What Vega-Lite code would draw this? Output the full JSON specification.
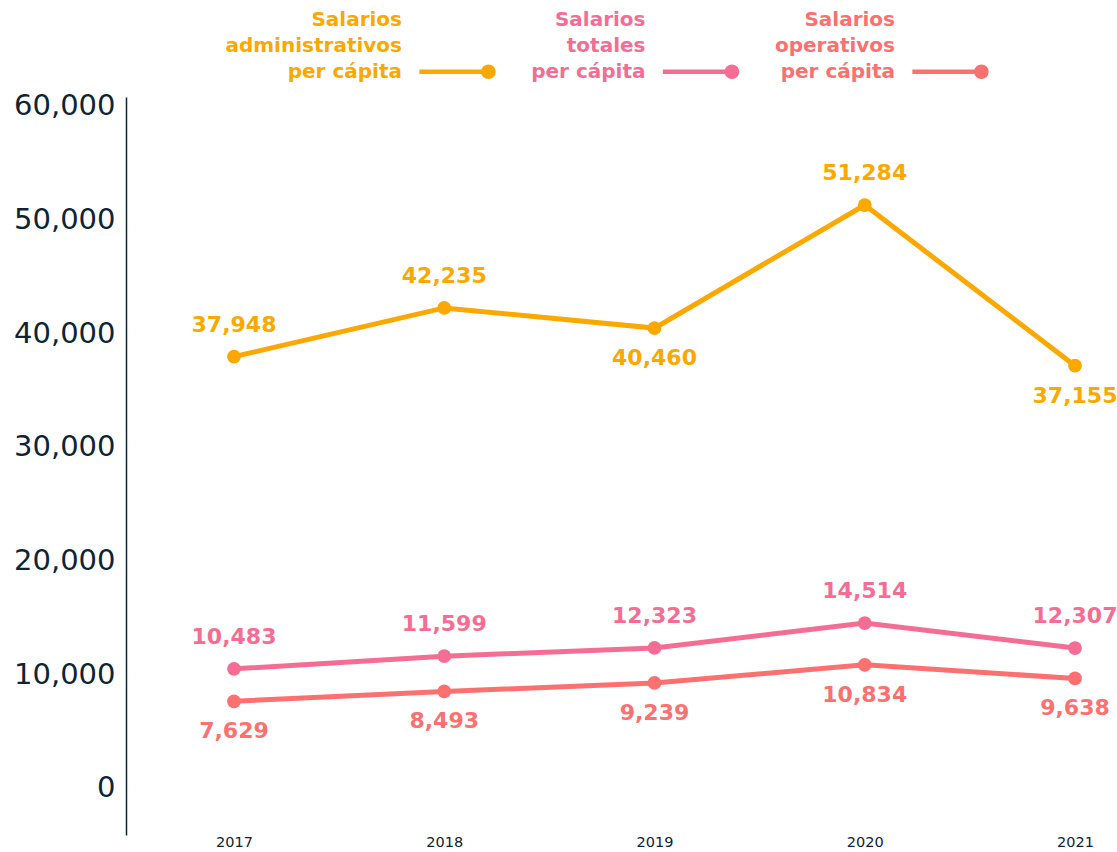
{
  "$schema": "https://vega.github.io/schema/vega-lite/v6.json",
  "width": 991,
  "height": 738,
  "autosize": {"type": "none"},
  "padding": {"left": 126, "top": 97, "right": 0, "bottom": 17},
  "background": "white",
  "config": {"view": {"stroke": null}, "font": "DejaVu Sans"},
  "data": {
    "values": [
      {"anio": 2017, "serie": "Salarios administrativos per cápita", "valor": 37948},
      {"anio": 2018, "serie": "Salarios administrativos per cápita", "valor": 42235},
      {"anio": 2019, "serie": "Salarios administrativos per cápita", "valor": 40460},
      {"anio": 2020, "serie": "Salarios administrativos per cápita", "valor": 51284},
      {"anio": 2021, "serie": "Salarios administrativos per cápita", "valor": 37155},
      {"anio": 2017, "serie": "Salarios totales per cápita", "valor": 10483},
      {"anio": 2018, "serie": "Salarios totales per cápita", "valor": 11599},
      {"anio": 2019, "serie": "Salarios totales per cápita", "valor": 12323},
      {"anio": 2020, "serie": "Salarios totales per cápita", "valor": 14514},
      {"anio": 2021, "serie": "Salarios totales per cápita", "valor": 12307},
      {"anio": 2017, "serie": "Salarios operativos per cápita", "valor": 7629},
      {"anio": 2018, "serie": "Salarios operativos per cápita", "valor": 8493},
      {"anio": 2019, "serie": "Salarios operativos per cápita", "valor": 9239},
      {"anio": 2020, "serie": "Salarios operativos per cápita", "valor": 10834},
      {"anio": 2021, "serie": "Salarios operativos per cápita", "valor": 9638}
    ]
  },
  "encoding": {
    "x": {
      "field": "anio",
      "type": "ordinal",
      "scale": {"type": "point", "padding": 0.3567, "align": 0.72},
      "axis": {
        "title": null,
        "domain": false,
        "ticks": false,
        "labelAngle": 0,
        "labelFont": "DejaVu Sans",
        "labelFontSize": 14.5,
        "labelColor": "#0E2434",
        "labelPadding": 0
      }
    },
    "y": {
      "field": "valor",
      "type": "quantitative",
      "scale": {"domain": [-4135, 60790], "nice": false, "zero": false},
      "axis": {
        "title": null,
        "values": [0, 10000, 20000, 30000, 40000, 50000, 60000],
        "format": ",.0f",
        "grid": false,
        "ticks": false,
        "domainColor": "#0E2434",
        "domainWidth": 1.5,
        "labelFont": "DejaVu Sans",
        "labelFontSize": 29,
        "labelColor": "#0E2434",
        "labelPadding": 11,
        "labelFlush": false,
        "labelOverlap": false
      }
    },
    "color": {
      "field": "serie",
      "type": "nominal",
      "scale": {
        "domain": ["Salarios administrativos per cápita", "Salarios totales per cápita", "Salarios operativos per cápita"],
        "range": ["#FCA800", "#F56D94", "#FC7070"]
      },
      "legend": {
        "orient": "none",
        "legendX": 291,
        "legendY": -66,
        "direction": "horizontal",
        "title": null,
        "padding": 0,
        "symbolType": "M-1,0L0.81,0M0.942,0A0.132,0.132,0,1,1,0.678,0A0.132,0.132,0,1,1,0.942,0Z",
        "symbolSize": 5822,
        "symbolStrokeWidth": 4.5,
        "labelFont": "DejaVu Sans",
        "labelFontWeight": "bold",
        "labelFontSize": 20,
        "labelLimit": 400,
        "labelAlign": "right",
        "labelOffset": -96,
        "labelBaseline": "bottom",
        "labelExpr": "split(replace(replace(datum.label, 'Salarios ', 'Salarios|'), ' per', '|per'), '|')",
        "columnPadding": 27.5,
        "encode": {
          "symbols": {
            "update": {
              "fill": {"scale": "color", "field": "value"},
              "stroke": {"scale": "color", "field": "value"},
              "opacity": {"value": 1}
            }
          },
          "labels": {
            "update": {
              "fill": {"scale": "color", "field": "value"},
              "lineHeight": {"value": 26},
              "dy": {"value": -42}
            }
          }
        }
      }
    }
  },
  "layer": [
    {"mark": {"type": "line", "strokeWidth": 5}},
    {"mark": {"type": "point", "filled": true, "size": 190, "opacity": 1}},
    {
      "transform": [{"filter": "!(datum.serie == 'Salarios operativos per cápita' || (datum.serie == 'Salarios administrativos per cápita' && (datum.anio == 2019 || datum.anio == 2021)))"}],
      "mark": {"type": "text", "dy": -32, "baseline": "middle", "font": "DejaVu Sans", "fontWeight": "bold", "fontSize": 22},
      "encoding": {"text": {"field": "valor", "type": "quantitative", "format": ","}}
    },
    {
      "transform": [{"filter": "datum.serie == 'Salarios operativos per cápita' || (datum.serie == 'Salarios administrativos per cápita' && (datum.anio == 2019 || datum.anio == 2021))"}],
      "mark": {"type": "text", "dy": 30, "baseline": "middle", "font": "DejaVu Sans", "fontWeight": "bold", "fontSize": 22},
      "encoding": {"text": {"field": "valor", "type": "quantitative", "format": ","}}
    }
  ]
}
